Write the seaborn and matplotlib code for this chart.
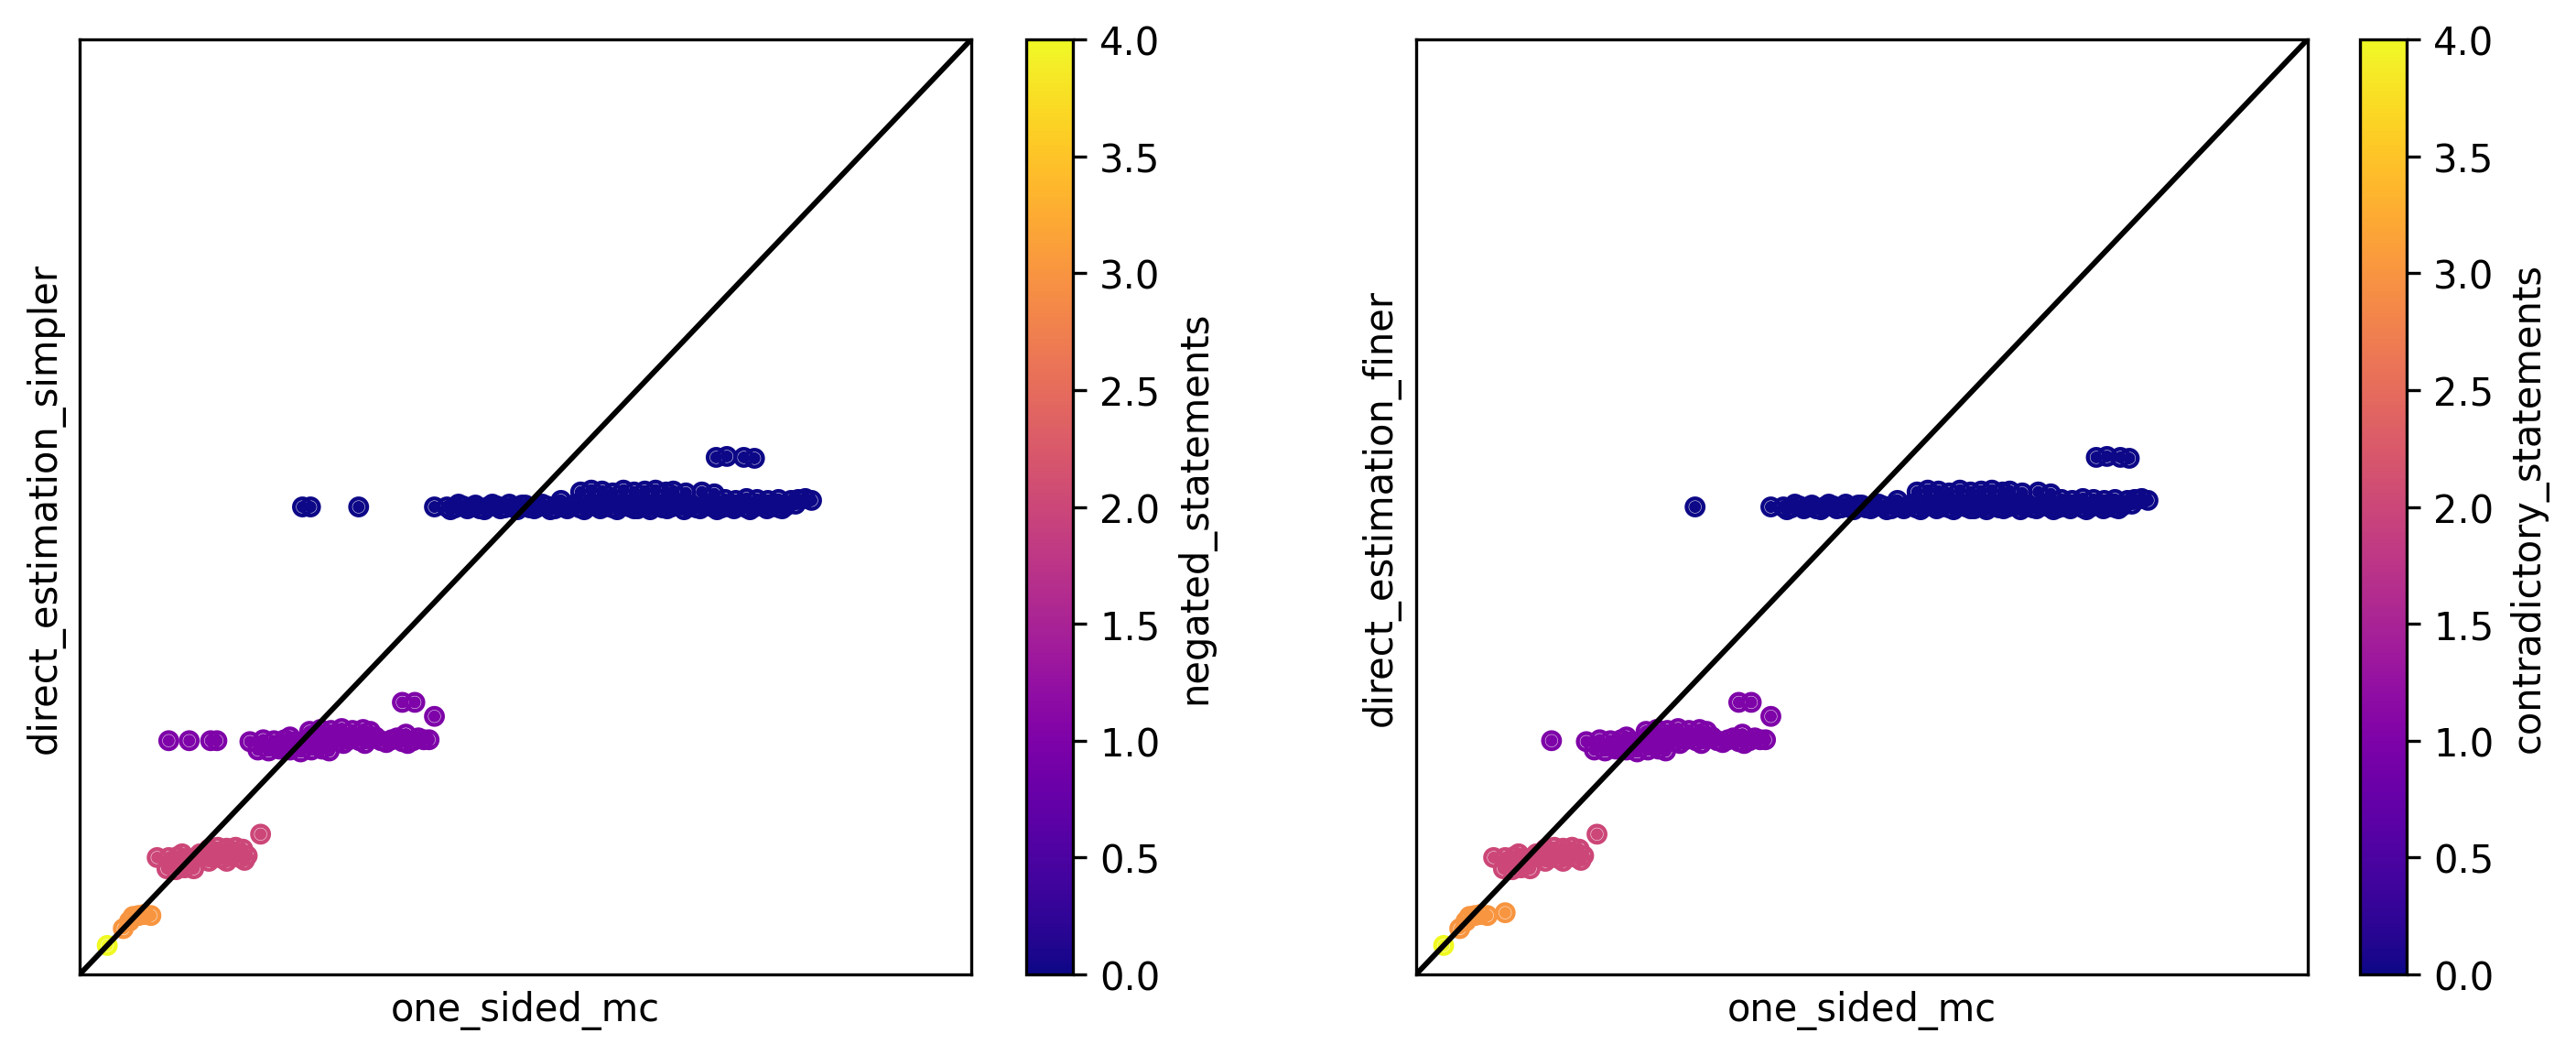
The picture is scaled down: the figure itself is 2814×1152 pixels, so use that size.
import numpy as np
import pandas as pd
import matplotlib
matplotlib.use("Agg")
import matplotlib.pyplot as plt
from matplotlib.path import Path
import seaborn as sns

# ---- data (axes run 0..1 on both sides) ----
# level 0 (blue band, y ~ 0.5) -- points common to both panels
lvl0_x = [0.412, 0.421, 0.430, 0.440, 0.449, 0.458, 0.468, 0.477, 0.486, 0.496,
          0.505, 0.514, 0.524, 0.533, 0.542, 0.552, 0.561, 0.570, 0.580, 0.589,
          0.598, 0.608, 0.617, 0.626, 0.636, 0.645, 0.654, 0.664, 0.673, 0.682,
          0.692, 0.701, 0.710, 0.720, 0.729, 0.738, 0.748, 0.757, 0.766, 0.776,
          0.785, 0.792,
          0.416, 0.425, 0.435, 0.444, 0.454, 0.463, 0.472, 0.482, 0.491, 0.500,
          0.510, 0.519, 0.528, 0.538, 0.547, 0.556, 0.566, 0.575, 0.584, 0.594,
          0.603, 0.612, 0.622, 0.631, 0.640, 0.650, 0.659, 0.668, 0.678, 0.687,
          0.696, 0.706, 0.715, 0.724, 0.734, 0.743, 0.752, 0.762, 0.771, 0.780,
          0.788,
          0.540,
          0.562, 0.574, 0.586, 0.598, 0.610, 0.622, 0.634, 0.646, 0.658, 0.666,
          0.680, 0.698, 0.712,
          0.724, 0.736, 0.748, 0.760, 0.772, 0.784,
          0.798, 0.806, 0.814, 0.821, 0.803]
lvl0_y = [0.500, 0.499, 0.501, 0.500, 0.498, 0.500, 0.501, 0.499, 0.500, 0.502,
          0.499, 0.500, 0.501, 0.498, 0.500, 0.501, 0.499, 0.500, 0.502, 0.500,
          0.499, 0.501, 0.500, 0.498, 0.500, 0.501, 0.499, 0.500, 0.502, 0.500,
          0.499, 0.501, 0.500, 0.499, 0.500, 0.501, 0.499, 0.500, 0.502, 0.500,
          0.499, 0.501,
          0.497, 0.503, 0.498, 0.502, 0.497, 0.503, 0.498, 0.503, 0.497, 0.502,
          0.498, 0.503, 0.497, 0.502, 0.498, 0.503, 0.497, 0.502, 0.498, 0.503,
          0.497, 0.502, 0.498, 0.503, 0.497, 0.502, 0.498, 0.503, 0.497, 0.502,
          0.498, 0.503, 0.497, 0.502, 0.498, 0.503, 0.497, 0.502, 0.498, 0.503,
          0.498,
          0.507,
          0.516, 0.518, 0.517, 0.515, 0.518, 0.516, 0.517, 0.518, 0.516, 0.517,
          0.515, 0.516, 0.514,
          0.508, 0.507, 0.509, 0.508, 0.507, 0.508,
          0.507, 0.508, 0.509, 0.507, 0.503]
simpler_lvl0_x = [0.250, 0.259, 0.313, 0.398, 0.714, 0.726, 0.745, 0.757]
simpler_lvl0_y = [0.500, 0.500, 0.500, 0.500, 0.553, 0.554, 0.553, 0.552]
finer_lvl0_x = [0.313, 0.398, 0.763, 0.775, 0.790, 0.800]
finer_lvl0_y = [0.500, 0.500, 0.553, 0.554, 0.553, 0.552]

# level 1 (purple band, y ~ 0.25)
lvl1_x = [0.191, 0.206,
          0.200, 0.212, 0.224, 0.236, 0.248, 0.260, 0.272, 0.280,
          0.218, 0.230, 0.242, 0.254, 0.266, 0.278, 0.290, 0.302, 0.314, 0.326,
          0.338, 0.350, 0.362, 0.374, 0.386,
          0.224, 0.236, 0.248, 0.260, 0.272, 0.284, 0.296, 0.308, 0.320, 0.332,
          0.344, 0.356, 0.368, 0.380,
          0.258, 0.270, 0.282, 0.294, 0.306, 0.318, 0.326,
          0.366, 0.392,
          0.362, 0.376, 0.398]
lvl1_y = [0.249, 0.251,
          0.240, 0.239, 0.241, 0.240, 0.238, 0.240, 0.241, 0.239,
          0.250, 0.251, 0.249, 0.250, 0.252, 0.250, 0.249, 0.251, 0.250, 0.252,
          0.250, 0.251, 0.249, 0.250, 0.251,
          0.245, 0.254, 0.246, 0.255, 0.246, 0.255, 0.247, 0.254, 0.247, 0.254,
          0.248, 0.253, 0.247, 0.253,
          0.260, 0.262, 0.261, 0.263, 0.261, 0.262, 0.260,
          0.257, 0.251,
          0.291, 0.291, 0.276]
simpler_lvl1_x = [0.100, 0.123, 0.147, 0.154]
simpler_lvl1_y = [0.250, 0.250, 0.250, 0.250]
finer_lvl1_x = [0.152]
finer_lvl1_y = [0.250]

# level 2 (pink band, y ~ 0.125)
lvl2_x = [0.087,
          0.098, 0.108, 0.118, 0.128,
          0.100, 0.110, 0.120, 0.130, 0.140, 0.150, 0.160, 0.170, 0.180, 0.188,
          0.105, 0.115, 0.125, 0.135, 0.145, 0.155, 0.165, 0.175, 0.185,
          0.145, 0.155, 0.165, 0.175, 0.183,
          0.203]
lvl2_y = [0.125,
          0.113, 0.112, 0.114, 0.113,
          0.125, 0.126, 0.124, 0.125, 0.126, 0.125, 0.124, 0.126, 0.125, 0.127,
          0.120, 0.129, 0.120, 0.129, 0.121, 0.130, 0.121, 0.130, 0.122,
          0.134, 0.136, 0.135, 0.136, 0.134,
          0.150]

# level 3 (orange, y ~ 0.06)
simpler_lvl3_x = [0.049, 0.056, 0.060, 0.066, 0.072, 0.080]
simpler_lvl3_y = [0.049, 0.057, 0.062, 0.063, 0.064, 0.063]
finer_lvl3_x = [0.049, 0.056, 0.060, 0.066, 0.072, 0.080, 0.100]
finer_lvl3_y = [0.049, 0.057, 0.062, 0.063, 0.064, 0.063, 0.066]

# level 4 (yellow)
lvl4_x = [0.031]
lvl4_y = [0.031]

cbar_ticks = [0.0, 0.5, 1.0, 1.5, 2.0, 2.5, 3.0, 3.5, 4.0]


def panel_frame(groups, ycol, hcol):
    parts = []
    for level, xs, ys in groups:
        part = pd.DataFrame({"one_sided_mc": xs, ycol: ys, hcol: [level] * len(xs)})
        # draw each band left to right so later points hide earlier rings
        parts.append(part.sort_values("one_sided_mc", kind="stable"))
    return pd.concat(parts, ignore_index=True)


df_simpler = panel_frame(
    [(0, lvl0_x + simpler_lvl0_x, lvl0_y + simpler_lvl0_y),
     (1, lvl1_x + simpler_lvl1_x, lvl1_y + simpler_lvl1_y),
     (2, lvl2_x, lvl2_y), (3, simpler_lvl3_x, simpler_lvl3_y),
     (4, lvl4_x, lvl4_y)],
    "direct_estimation_simpler", "negated_statements")

df_finer = panel_frame(
    [(0, lvl0_x + finer_lvl0_x, lvl0_y + finer_lvl0_y),
     (1, lvl1_x + finer_lvl1_x, lvl1_y + finer_lvl1_y),
     (2, lvl2_x, lvl2_y), (3, finer_lvl3_x, finer_lvl3_y),
     (4, lvl4_x, lvl4_y)],
    "direct_estimation_finer", "contradictory_statements")

# round marker with a thin see-through ring inside
t = np.linspace(0, 2 * np.pi, 73)
unit = np.column_stack([np.cos(t), np.sin(t)])
ring_verts = np.concatenate([unit, 0.615 * unit[::-1], 0.575 * unit])
ring_codes = np.full(len(ring_verts), Path.LINETO)
ring_codes[[0, 73, 146]] = Path.MOVETO
ring_marker = Path(ring_verts, ring_codes)

fig = plt.figure(figsize=(9.38, 3.8433), dpi=300)
ax_l = fig.add_axes([0.0309, 0.0763, 0.3461, 0.8855])
cax_l = fig.add_axes([0.3984, 0.0763, 0.0181, 0.8855])
ax_r = fig.add_axes([0.5497, 0.0763, 0.3461, 0.8855])
cax_r = fig.add_axes([0.9161, 0.0763, 0.0181, 0.8855])

norm = plt.Normalize(0, 4)
for ax, cax, df, ycol, hcol in [
        (ax_l, cax_l, df_simpler, "direct_estimation_simpler", "negated_statements"),
        (ax_r, cax_r, df_finer, "direct_estimation_finer", "contradictory_statements")]:
    sns.scatterplot(data=df, x="one_sided_mc", y=ycol, hue=hcol,
                    palette="plasma", hue_norm=(0, 4), s=30,
                    marker=ring_marker, linewidth=0, edgecolor="none",
                    legend=False, ax=ax)
    ax.axline((0, 0), slope=1, color="black", lw=1.4, zorder=5)
    ax.set_xlim(0, 1)
    ax.set_ylim(0, 1)
    ax.set_xticks([])
    ax.set_yticks([])
    ax.set_xlabel("one_sided_mc")
    ax.set_ylabel(ycol)
    sm = plt.cm.ScalarMappable(cmap="plasma", norm=norm)
    cb = fig.colorbar(sm, cax=cax, ticks=cbar_ticks)
    cb.set_label(hcol)

fig.savefig("out.png", dpi=300)
